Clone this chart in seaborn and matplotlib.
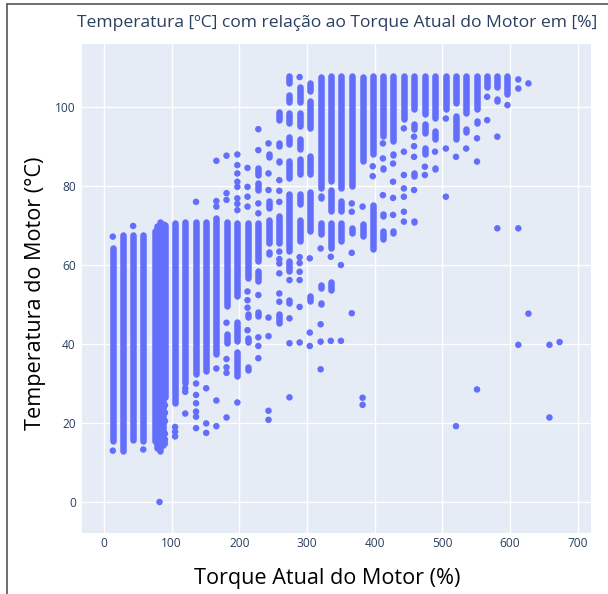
import matplotlib
matplotlib.use("Agg")
import matplotlib.pyplot as plt
import seaborn as sns
import pandas as pd
from matplotlib.lines import Line2D

# Torque (%) de cada coluna com trechos continuos de temperatura (C)
run_cols = [13, 28, 43, 58, 75, 79, 83, 87, 90, 105, 120, 136, 151, 166,
            181, 197, 212, 228, 243, 259, 274, 289, 304, 320, 335, 350,
            366, 382, 397, 412, 427, 443, 458, 474, 489, 505, 520, 535,
            551, 566, 581, 596]
run_spans = [
    [(15.5, 64.2)],
    [(13.0, 67.6)],
    [(15.8, 67.6)],
    [(15.4, 67.7)],
    [(15.4, 68.6)],
    [(13.6, 69.8)],
    [(13.0, 71.0)],
    [(14.4, 70.4)],
    [(26.6, 70.2)],
    [(25.1, 70.7)],
    [(30.2, 70.9)],
    [(32.3, 70.9)],
    [(33.2, 70.9)],
    [(37.4, 72.0)],
    [(49.6, 70.9), (40.3, 42.5)],
    [(52.2, 70.7), (40.8, 45.6), (31.9, 37.9)],
    [(56.8, 70.7), (46.8, 47.5), (40.6, 41.5), (33.4, 34.3)],
    [(82.8, 84.5), (79.0, 80.7), (61.0, 70.7), (56.0, 58.5), (47.0, 48.1)],
    [(87.4, 88.0), (74.4, 76.1), (65.7, 71.5), (62.7, 63.2)],
    [(96.8, 98.8), (90.2, 91.0), (86.0, 86.3), (65.6, 72.4), (45.3, 47.7)],
    [(106.2, 107.8), (101.4, 103.0), (96.0, 98.6), (90.6, 92.4), (82.1, 86.4),
     (63.6, 77.9), (58.5, 61.1), (50.4, 51.1)],
    [(101.4, 105.0), (95.2, 98.6), (89.3, 91.9), (83.0, 86.8), (75.4, 77.9),
     (66.1, 71.5)],
    [(104.1, 106.2), (94.8, 101.6), (83.0, 87.6), (68.6, 78.4), (50.9, 52.2)],
    [(79.6, 107.5), (77.0, 77.4), (67.8, 70.7), (54.2, 54.9), (50.2, 50.4)],
    [(81.3, 107.8), (73.7, 78.9), (64.4, 70.7), (53.8, 55.6)],
    [(79.6, 107.9), (73.7, 76.2), (66.1, 70.7)],
    [(80.0, 107.8), (68.2, 69.4)],
    [(86.3, 107.5), (67.4, 70.3)],
    [(88.0, 107.8), (64.0, 75.3)],
    [(92.7, 107.8), (84.2, 84.6), (72.4, 72.9), (66.5, 68.6)],
    [(91.4, 107.8), (87.9, 88.1), (68.2, 68.6)],
    [(96.9, 107.8), (85.0, 85.2)],
    [(99.4, 107.9), (94.4, 95.6), (82.5, 83.3), (70.9, 71.2)],
    [(98.2, 107.8), (93.5, 95.6), (88.0, 89.7)],
    [(97.3, 107.8), (91.8, 93.9), (84.2, 84.6)],
    [(99.4, 107.8)],
    [(101.1, 107.8), (91.8, 97.7)],
    [(98.6, 107.8), (93.8, 94.4)],
    [(99.4, 107.8), (96.0, 96.4)],
    [(105.2, 107.8)],
    [(105.2, 107.8), (101.6, 102.0)],
    [(103.2, 107.8)],
]

# Pontos isolados por coluna de torque
dot_cols = [13, 43, 58, 82, 90, 105, 120, 136, 151, 166, 181, 197, 212, 228,
            243, 259, 274, 289, 304, 320, 335, 350, 366, 382, 397, 412, 427,
            443, 458, 474, 489, 505, 520, 535, 551, 566, 581, 596, 612, 627,
            658, 673]
dot_temps = [
    [67.2, 13.0],
    [69.9],
    [13.3],
    [0.0],
    [24.5, 22.6, 20.5, 17.3, 15.8, 14.8],
    [19.0, 17.8, 16.6],
    [28.8, 27.9, 22.4],
    [76.0, 30.0, 27.1, 25.0, 22.9, 21.6, 18.7],
    [28.8, 19.9, 17.5],
    [86.4, 76.2, 74.8, 33.8, 25.7, 19.2],
    [87.7, 78.2, 76.5, 45.4, 36.2, 34.1, 32.7, 21.4],
    [88.0, 85.3, 83.2, 81.1, 79.8, 76.9, 75.5, 73.9, 25.2],
    [84.6, 79.8, 77.3, 74.8, 53.3, 51.1, 49.2, 43.5],
    [94.4, 89.1, 75.6, 73.1, 52.4, 41.7, 39.5, 36.4],
    [90.8, 83.2, 79.0, 46.7, 42.0, 23.1, 20.8],
    [81.5, 78.8, 76.0, 63.4, 61.5, 60.4, 57.9, 52.8, 50.7],
    [56.2, 46.5, 40.2, 26.5],
    [107.6, 62.0, 60.5, 58.3, 56.2, 49.4, 40.4],
    [61.7, 42.9, 39.5],
    [64.2, 45.0, 40.6, 33.6],
    [62.1, 40.8],
    [60.0, 40.8],
    [75.6, 73.5, 63.1, 47.8],
    [74.8, 26.4, 24.6],
    [85.0, 82.5],
    [90.8, 87.0, 77.7],
    [85.7, 81.1, 77.0, 72.7],
    [94.6, 88.7, 82.8, 79.4, 77.3, 73.5, 71.0],
    [92.5, 90.1, 87.4, 79.0],
    [84.9, 82.8],
    [88.7],
    [97.1, 89.5, 77.3],
    [87.4, 19.2],
    [89.5],
    [92.1, 86.2, 28.5],
    [102.6, 96.7],
    [92.5, 69.3],
    [100.5],
    [107.0, 104.7, 69.3, 39.8],
    [106.0, 47.7],
    [39.8, 21.4],
    [40.5],
]

x_ticks = [0, 100, 200, 300, 400, 500, 600, 700]
y_ticks = [0, 20, 40, 60, 80, 100]

runs = pd.DataFrame([(x, lo, hi) for x, spans in zip(run_cols, run_spans) for lo, hi in spans],
                    columns=['torque', 't_min', 't_max'])
dots = pd.DataFrame([(x, t) for x, temps in zip(dot_cols, dot_temps) for t in temps],
                    columns=['torque', 'temp'])

sns.set_style('darkgrid', {'axes.facecolor': '#E5ECF6', 'grid.color': 'white',
                           'axes.edgecolor': 'none', 'figure.facecolor': 'white'})
plt.rcParams['font.family'] = ['Open Sans', 'DejaVu Sans']

cor = '#636EFA'
texto = '#2A3F5F'

fig = plt.figure(figsize=(6.08, 5.94), dpi=100)
ax = fig.add_axes([82 / 608, 61 / 594, 509 / 608, 489.5 / 594])

# trechos densos (pontos sobrepostos) e pontos isolados
ax.vlines(runs['torque'], runs['t_min'], runs['t_max'], color=cor,
          linewidth=4.7, capstyle='round', zorder=3)
sns.scatterplot(data=dots, x='torque', y='temp', ax=ax, color=cor, s=22,
                edgecolor='none', linewidth=0, zorder=3, legend=False)

ax.set_xlim(-32.5, 719.4)
ax.set_ylim(-7.85, 116.1)
ax.set_xticks(x_ticks)
ax.set_yticks(y_ticks)
ax.grid(True, color='white', linewidth=1.0)
ax.tick_params(axis='both', length=0, labelsize=8.6, labelcolor=texto)
ax.tick_params(axis='x', pad=3)
ax.tick_params(axis='y', pad=4.5)
for s in ax.spines.values():
    s.set_visible(False)

ax.set_xlabel('Torque Atual do Motor (%)', fontsize=15.6, color='black', va='center')
ax.set_ylabel('Temperatura do Motor (°C)', fontsize=15.6, color='black', va='center')
ax.xaxis.set_label_coords(0.481, -0.092)
ax.yaxis.set_label_coords(-0.0923, 0.49)

fig.text(337 / 608, 1 - 23 / 594, 'Temperatura [ºC] com relação ao Torque Atual do Motor em [%]',
         ha='center', va='center', fontsize=12.6, color=texto)

# moldura da captura de tela
fig.add_artist(Line2D([6.5 / 608, 6.5 / 608], [0, 1 - 3.5 / 594], transform=fig.transFigure,
                      color='#555555', linewidth=1.2))
fig.add_artist(Line2D([6.5 / 608, 1], [1 - 3.5 / 594, 1 - 3.5 / 594], transform=fig.transFigure,
                      color='#555555', linewidth=1.2))

fig.savefig('out.png', dpi=100)
